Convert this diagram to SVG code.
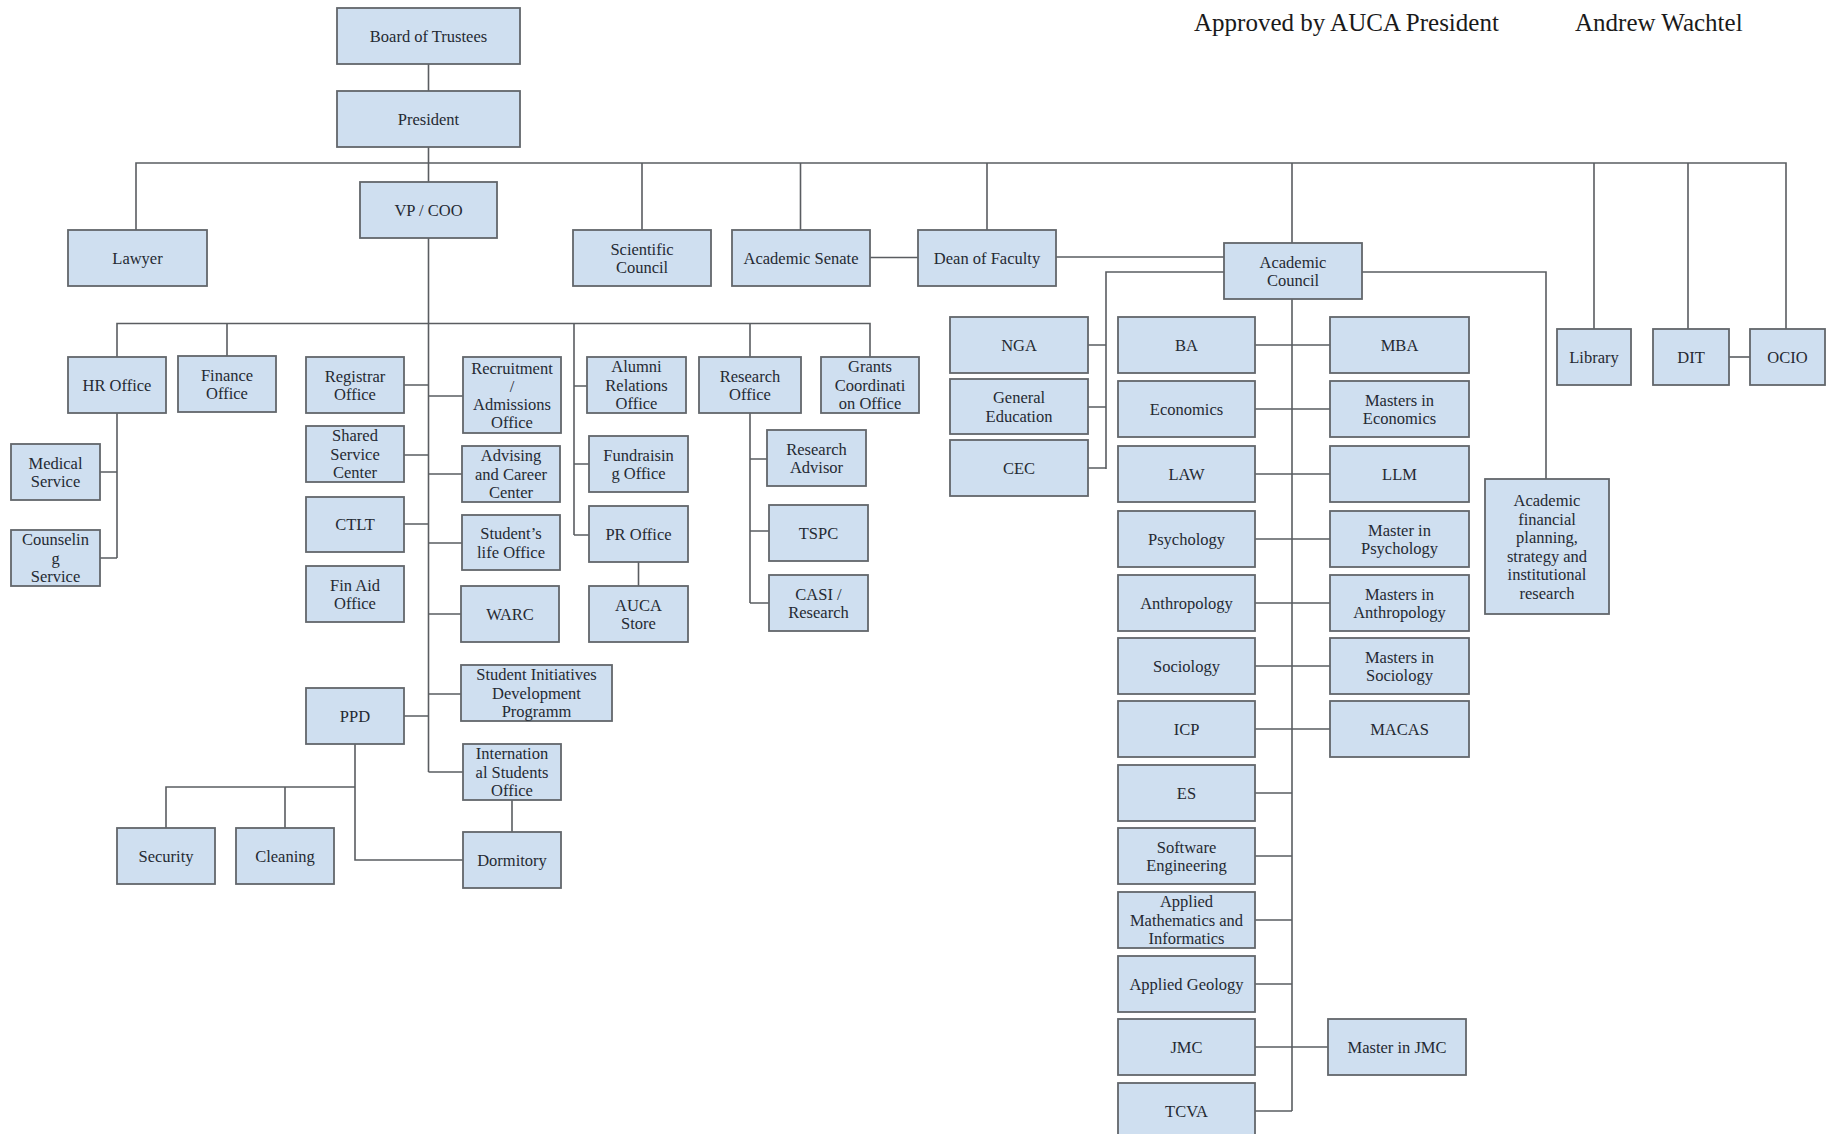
<svg xmlns="http://www.w3.org/2000/svg" width="1827" height="1134" viewBox="0 0 1827 1134">
<style>
.n rect{fill:#cfdff0;stroke:#62666b;stroke-width:1.8}
.n text{font-family:"Liberation Serif","Times New Roman",serif;font-size:16.5px;fill:#252a33;text-anchor:middle}
.c path{fill:none;stroke:#5a5d61;stroke-width:1.6}
.h{font-family:"Liberation Serif","Times New Roman",serif;font-size:25px;fill:#1a1a1a}
</style>
<rect width="1827" height="1134" fill="#ffffff"/>
<text class="h" x="1194" y="31">Approved by AUCA President</text>
<text class="h" x="1575" y="31">Andrew Wachtel</text>

<g class="c" id="connectors">
<path d="M428.5,64V91M428.5,147V182"/>
<path d="M136,230V163H1786V329M642,163V230M800.5,163V230M987,163V230M1292,163V243M1594,163V329M1688,163V329"/>
<path d="M870,257.5H918M1056,257H1224"/>
<path d="M1224,272H1106V469M1088,345H1106M1088,407H1106M1088,468H1106"/>
<path d="M1362,272H1546V479"/>
<path d="M1729,357H1750"/>
<path d="M1292,299V1111"/>
<path d="M1255,345H1330M1255,409H1330M1255,474H1330M1255,539H1330M1255,603H1330M1255,666H1330M1255,729H1330M1255,1047H1328"/>
<path d="M1255,793H1292M1255,856H1292M1255,920H1292M1255,984H1292M1255,1111H1292"/>
<path d="M428.5,238V772"/>
<path d="M117,357V323.5H870V357M227,323.5V356M574,323.5V535M750,323.5V357"/>
<path d="M117,413V558M100,472H117M100,558H117"/>
<path d="M404,385H428.5M404,455H428.5M404,524H428.5M404,716H428.5"/>
<path d="M428.5,396H463M428.5,474H462M428.5,543H462M428.5,614H461M428.5,694H461M428.5,772H463"/>
<path d="M512,800V832"/>
<path d="M355,744V860H463M166,828V787H355M285,787V828"/>
<path d="M574,386H587M574,464H589M574,535H589"/>
<path d="M638.5,562V586"/>
<path d="M750,413V603M750,459H767M750,531H769M750,603H769"/>
</g>

<g class="n" id="board"><rect x="337" y="8" width="183" height="56"/><text x="428.5" y="41.8">Board of Trustees</text></g>
<g class="n" id="president"><rect x="337" y="91" width="183" height="56"/><text x="428.5" y="124.8">President</text></g>
<g class="n" id="vp"><rect x="360" y="182" width="137" height="56"/><text x="428.5" y="215.8">VP / COO</text></g>
<g class="n" id="lawyer"><rect x="68" y="230" width="139" height="56"/><text x="137.5" y="263.8">Lawyer</text></g>
<g class="n" id="sci"><rect x="573" y="230" width="138" height="56"/><text x="642" y="254.5">Scientific</text><text x="642" y="273">Council</text></g>
<g class="n" id="senate"><rect x="732" y="230" width="138" height="56"/><text x="801" y="263.8">Academic Senate</text></g>
<g class="n" id="dean"><rect x="918" y="230" width="138" height="56"/><text x="987" y="263.8">Dean of Faculty</text></g>
<g class="n" id="acouncil"><rect x="1224" y="243" width="138" height="56"/><text x="1293" y="267.5">Academic</text><text x="1293" y="286">Council</text></g>
<g class="n" id="library"><rect x="1557" y="329" width="74" height="56"/><text x="1594" y="362.8">Library</text></g>
<g class="n" id="dit"><rect x="1653" y="329" width="76" height="56"/><text x="1691" y="362.8">DIT</text></g>
<g class="n" id="ocio"><rect x="1750" y="329" width="75" height="56"/><text x="1787.5" y="362.8">OCIO</text></g>
<g class="n" id="afp"><rect x="1485" y="479" width="124" height="135"/><text x="1547" y="506">Academic</text><text x="1547" y="524.5">financial</text><text x="1547" y="543">planning,</text><text x="1547" y="561.5">strategy and</text><text x="1547" y="580">institutional</text><text x="1547" y="598.5">research</text></g>

<g class="n" id="nga"><rect x="950" y="317" width="138" height="56"/><text x="1019" y="350.8">NGA</text></g>
<g class="n" id="gened"><rect x="950" y="379" width="138" height="55"/><text x="1019" y="403">General</text><text x="1019" y="421.5">Education</text></g>
<g class="n" id="cec"><rect x="950" y="440" width="138" height="56"/><text x="1019" y="473.8">CEC</text></g>

<g class="n" id="ba"><rect x="1118" y="317" width="137" height="56"/><text x="1186.5" y="350.8">BA</text></g>
<g class="n" id="economics"><rect x="1118" y="381" width="137" height="56"/><text x="1186.5" y="414.8">Economics</text></g>
<g class="n" id="law"><rect x="1118" y="446" width="137" height="56"/><text x="1186.5" y="479.8">LAW</text></g>
<g class="n" id="psychology"><rect x="1118" y="511" width="137" height="56"/><text x="1186.5" y="544.8">Psychology</text></g>
<g class="n" id="anthropology"><rect x="1118" y="575" width="137" height="56"/><text x="1186.5" y="608.8">Anthropology</text></g>
<g class="n" id="sociology"><rect x="1118" y="638" width="137" height="56"/><text x="1186.5" y="671.8">Sociology</text></g>
<g class="n" id="icp"><rect x="1118" y="701" width="137" height="56"/><text x="1186.5" y="734.8">ICP</text></g>
<g class="n" id="es"><rect x="1118" y="765" width="137" height="56"/><text x="1186.5" y="798.8">ES</text></g>
<g class="n" id="se"><rect x="1118" y="828" width="137" height="56"/><text x="1186.5" y="852.5">Software</text><text x="1186.5" y="871">Engineering</text></g>
<g class="n" id="ami"><rect x="1118" y="892" width="137" height="56"/><text x="1186.5" y="907">Applied</text><text x="1186.5" y="925.5">Mathematics and</text><text x="1186.5" y="944">Informatics</text></g>
<g class="n" id="geology"><rect x="1118" y="956" width="137" height="56"/><text x="1186.5" y="989.8">Applied Geology</text></g>
<g class="n" id="jmc"><rect x="1118" y="1019" width="137" height="56"/><text x="1186.5" y="1052.8">JMC</text></g>
<g class="n" id="tcva"><rect x="1118" y="1083" width="137" height="60"/><text x="1186.5" y="1116.8">TCVA</text></g>

<g class="n" id="mba"><rect x="1330" y="317" width="139" height="56"/><text x="1399.5" y="350.8">MBA</text></g>
<g class="n" id="mecon"><rect x="1330" y="381" width="139" height="56"/><text x="1399.5" y="405.5">Masters in</text><text x="1399.5" y="424">Economics</text></g>
<g class="n" id="llm"><rect x="1330" y="446" width="139" height="56"/><text x="1399.5" y="479.8">LLM</text></g>
<g class="n" id="mpsy"><rect x="1330" y="511" width="139" height="56"/><text x="1399.5" y="535.5">Master in</text><text x="1399.5" y="554">Psychology</text></g>
<g class="n" id="manth"><rect x="1330" y="575" width="139" height="56"/><text x="1399.5" y="599.5">Masters in</text><text x="1399.5" y="618">Anthropology</text></g>
<g class="n" id="msoc"><rect x="1330" y="638" width="139" height="56"/><text x="1399.5" y="662.5">Masters in</text><text x="1399.5" y="681">Sociology</text></g>
<g class="n" id="macas"><rect x="1330" y="701" width="139" height="56"/><text x="1399.5" y="734.8">MACAS</text></g>
<g class="n" id="mjmc"><rect x="1328" y="1019" width="138" height="56"/><text x="1397" y="1052.8">Master in JMC</text></g>

<g class="n" id="hr"><rect x="68" y="357" width="98" height="56"/><text x="117" y="390.8">HR Office</text></g>
<g class="n" id="finance"><rect x="178" y="356" width="98" height="56"/><text x="227" y="380.5">Finance</text><text x="227" y="399">Office</text></g>
<g class="n" id="medical"><rect x="11" y="444" width="89" height="56"/><text x="55.5" y="468.5">Medical</text><text x="55.5" y="487">Service</text></g>
<g class="n" id="counseling"><rect x="11" y="530" width="89" height="56"/><text x="55.5" y="545">Counselin</text><text x="55.5" y="563.5">g</text><text x="55.5" y="582">Service</text></g>
<g class="n" id="registrar"><rect x="306" y="357" width="98" height="56"/><text x="355" y="381.5">Registrar</text><text x="355" y="400">Office</text></g>
<g class="n" id="shared"><rect x="306" y="426" width="98" height="56"/><text x="355" y="441">Shared</text><text x="355" y="459.5">Service</text><text x="355" y="478">Center</text></g>
<g class="n" id="ctlt"><rect x="306" y="497" width="98" height="55"/><text x="355" y="530.3">CTLT</text></g>
<g class="n" id="finaid"><rect x="306" y="566" width="98" height="56"/><text x="355" y="590.5">Fin Aid</text><text x="355" y="609">Office</text></g>
<g class="n" id="ppd"><rect x="306" y="688" width="98" height="56"/><text x="355" y="721.8">PPD</text></g>
<g class="n" id="security"><rect x="117" y="828" width="98" height="56"/><text x="166" y="861.8">Security</text></g>
<g class="n" id="cleaning"><rect x="236" y="828" width="98" height="56"/><text x="285" y="861.8">Cleaning</text></g>

<g class="n" id="recruitment"><rect x="463" y="357" width="98" height="76"/><text x="512" y="374">Recruitment</text><text x="512" y="392">/</text><text x="512" y="410">Admissions</text><text x="512" y="428">Office</text></g>
<g class="n" id="advising"><rect x="462" y="446" width="98" height="56"/><text x="511" y="461">Advising</text><text x="511" y="479.5">and Career</text><text x="511" y="498">Center</text></g>
<g class="n" id="stulife"><rect x="462" y="515" width="98" height="55"/><text x="511" y="539">Student’s</text><text x="511" y="557.5">life Office</text></g>
<g class="n" id="warc"><rect x="461" y="586" width="98" height="56"/><text x="510" y="619.8">WARC</text></g>
<g class="n" id="sidp"><rect x="461" y="665" width="151" height="56"/><text x="536.5" y="680">Student Initiatives</text><text x="536.5" y="698.5">Development</text><text x="536.5" y="717">Programm</text></g>
<g class="n" id="iso"><rect x="463" y="744" width="98" height="56"/><text x="512" y="759">Internation</text><text x="512" y="777.5">al Students</text><text x="512" y="796">Office</text></g>
<g class="n" id="dormitory"><rect x="463" y="832" width="98" height="56"/><text x="512" y="865.8">Dormitory</text></g>

<g class="n" id="alumni"><rect x="587" y="357" width="99" height="56"/><text x="636.5" y="372">Alumni</text><text x="636.5" y="390.5">Relations</text><text x="636.5" y="409">Office</text></g>
<g class="n" id="fundraising"><rect x="589" y="436" width="99" height="56"/><text x="638.5" y="460.5">Fundraisin</text><text x="638.5" y="479">g Office</text></g>
<g class="n" id="pr"><rect x="589" y="506" width="99" height="56"/><text x="638.5" y="539.8">PR Office</text></g>
<g class="n" id="aucastore"><rect x="589" y="586" width="99" height="56"/><text x="638.5" y="610.5">AUCA</text><text x="638.5" y="629">Store</text></g>
<g class="n" id="research"><rect x="699" y="357" width="102" height="56"/><text x="750" y="381.5">Research</text><text x="750" y="400">Office</text></g>
<g class="n" id="radvisor"><rect x="767" y="430" width="99" height="56"/><text x="816.5" y="454.5">Research</text><text x="816.5" y="473">Advisor</text></g>
<g class="n" id="tspc"><rect x="769" y="505" width="99" height="56"/><text x="818.5" y="538.8">TSPC</text></g>
<g class="n" id="casi"><rect x="769" y="575" width="99" height="56"/><text x="818.5" y="599.5">CASI /</text><text x="818.5" y="618">Research</text></g>
<g class="n" id="grants"><rect x="821" y="357" width="98" height="56"/><text x="870" y="372">Grants</text><text x="870" y="390.5">Coordinati</text><text x="870" y="409">on Office</text></g>
</svg>
